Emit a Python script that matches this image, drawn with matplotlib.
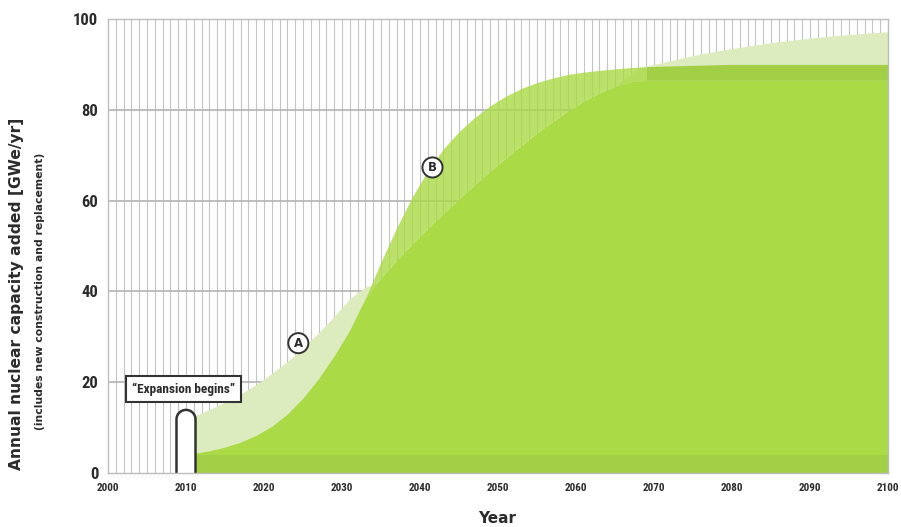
import matplotlib

matplotlib.use("Agg")

import numpy as np
import matplotlib.pyplot as plt
from matplotlib import font_manager
from matplotlib.patches import Polygon

# ---- data ----
# curve A: light green envelope
years_a = [2011, 2013, 2015, 2017, 2019, 2021, 2023, 2025, 2027, 2029, 2031, 2033,
           2035, 2040, 2045, 2050, 2055, 2060, 2064, 2068, 2072, 2076, 2080, 2085,
           2090, 2095, 2100]
curve_a = [12.5, 14.0, 15.6, 17.4, 19.5, 21.9, 24.6, 27.6, 30.9, 34.5, 38.4, 41.0,
           42.0, 50.0, 58.0, 66.0, 73.0, 79.5, 83.8, 89.2, 90.8, 92.3, 93.5, 94.8,
           95.8, 96.6, 97.2]

# curves B (upper, see-through) and C (solid) share one year axis
years_bc = [2011, 2013, 2015, 2017, 2019, 2021, 2023, 2025, 2027, 2029,
            2031, 2033, 2035, 2037, 2039, 2041, 2043, 2045, 2047, 2049,
            2051, 2053, 2055, 2057, 2059, 2061, 2063, 2065, 2067, 2069,
            2075, 2080, 2090, 2100]
curve_c = [4.3, 4.9, 5.7, 6.8, 8.3, 10.3, 13.0, 16.5, 20.8, 25.8,
           31.5, 38.5, 43.0, 46.9, 50.5, 53.9, 57.2, 60.4, 63.5, 66.5,
           69.4, 72.2, 74.9, 77.4, 79.8, 81.9, 83.7, 85.2, 86.2, 86.5,
           86.5, 86.5, 86.5, 86.5]
curve_b = [4.3, 4.9, 5.7, 6.8, 8.3, 10.3, 13.0, 16.5, 20.8, 25.8,
           31.5, 38.5, 46.5, 54.0, 60.8, 66.6, 71.4, 75.2, 78.3, 80.9,
           83.0, 84.7, 86.0, 87.0, 87.8, 88.3, 88.7, 89.0, 89.3, 89.5,
           89.8, 90.0, 90.0, 90.0]

base_band = 4.0          # darker strip at the bottom
crossover_year = 2069    # A rises above B from here on
expansion_year = 2010
pill_top = 13.9

x_ticks = list(range(2000, 2101, 10))
y_ticks = [0, 20, 40, 60, 80, 100]

LIGHT = "#dcecbf"
GREEN = "#aada46"
DARK = "#a3cf47"
GRID = "#c4c4c4"
TEXT = "#2b2b2b"

# narrow font if one is around
names = {f.name for f in font_manager.fontManager.ttflist}
narrow = next((n for n in ["Roboto Condensed", "Liberation Sans Narrow",
                           "DejaVu Sans Condensed"] if n in names), "DejaVu Sans")

fig = plt.figure(figsize=(9.01, 5.27), dpi=100)
ax = fig.add_axes([108 / 901, 54 / 527, 780 / 901, 454 / 527])
ax.set_xlim(2000, 2100)
ax.set_ylim(0, 100)

# grid: every year vertically, every 20 horizontally
ax.vlines(np.arange(2001, 2100), 0, 100, color=GRID, lw=0.8, zorder=1)
ax.hlines(y_ticks[1:-1], 2000, 2100, color="#b4b4b4", lw=1.2, zorder=1)

ax.fill_between(years_a, 0, curve_a, color=LIGHT, lw=0, zorder=2)
yb = np.array(years_bc)
ax.fill_between(years_bc, curve_c, curve_b, where=yb <= crossover_year,
                color=GREEN, alpha=0.8, lw=0, zorder=3, interpolate=True)
ax.fill_between(years_bc, curve_c, curve_b, where=yb >= crossover_year,
                color=DARK, lw=0, zorder=3, interpolate=True)
ax.fill_between(years_bc, 0, curve_c, color=GREEN, lw=0, zorder=4)
ax.fill_between([years_bc[0], years_bc[-1]], 0, base_band, color=DARK, lw=0, zorder=5)

# "expansion begins" marker
rx, ry = 1.22, 2.09
theta = np.linspace(np.pi, 0, 40)
px = np.concatenate([[expansion_year - rx], expansion_year + rx * np.cos(theta),
                     [expansion_year + rx]])
py = np.concatenate([[0], pill_top - ry + ry * np.sin(theta), [0]])
ax.add_patch(Polygon(np.column_stack([px, py]), closed=True, fc="white", lw=0, zorder=6))
ax.plot(px, py, color="#333333", lw=1.8, zorder=7, solid_capstyle="butt")

ax.text(2009.7, 18.5, "\u201cExpansion begins\u201d", ha="center", va="center",
        fontsize=9.5, fontweight="bold", color=TEXT, family=narrow, zorder=8,
        bbox=dict(boxstyle="square,pad=0.45", fc="white", ec="#333333", lw=1.5))

for lab, x, y in [("A", 2024.4, 28.6), ("B", 2041.6, 67.3)]:
    ax.text(x, y, lab, ha="center", va="center", fontsize=8.5, fontweight="bold",
            color=TEXT, zorder=8,
            bbox=dict(boxstyle="circle,pad=0.3", fc="white", ec="#333333", lw=1.4))

ax.set_xticks(x_ticks)
ax.set_yticks(y_ticks)
ax.tick_params(length=0)
ax.tick_params(axis="x", pad=7, labelsize=8, labelcolor=TEXT)
ax.tick_params(axis="y", pad=7, labelsize=12, labelcolor=TEXT)
for lbl in ax.get_xticklabels() + ax.get_yticklabels():
    lbl.set_fontweight("bold")
    lbl.set_family(narrow)

for s in ax.spines.values():
    s.set_color("#bdbdbd")
    s.set_linewidth(1.0)
    s.set_zorder(9)

ax.text(0.499, -0.101, "Year", transform=ax.transAxes, ha="center", va="center",
        fontsize=11, fontweight="bold", color=TEXT)
ax.text(-0.117, 0.394, "Annual nuclear capacity added [GWe/yr]", transform=ax.transAxes,
        rotation=90, ha="center", va="center", fontsize=11.2, fontweight="bold",
        color=TEXT)
ax.text(-0.087, 0.40, "(includes new construction and replacement)", transform=ax.transAxes,
        rotation=90, ha="center", va="center", fontsize=7.8, fontweight="bold",
        color=TEXT)

fig.savefig("out.png", dpi=100, facecolor="white")
